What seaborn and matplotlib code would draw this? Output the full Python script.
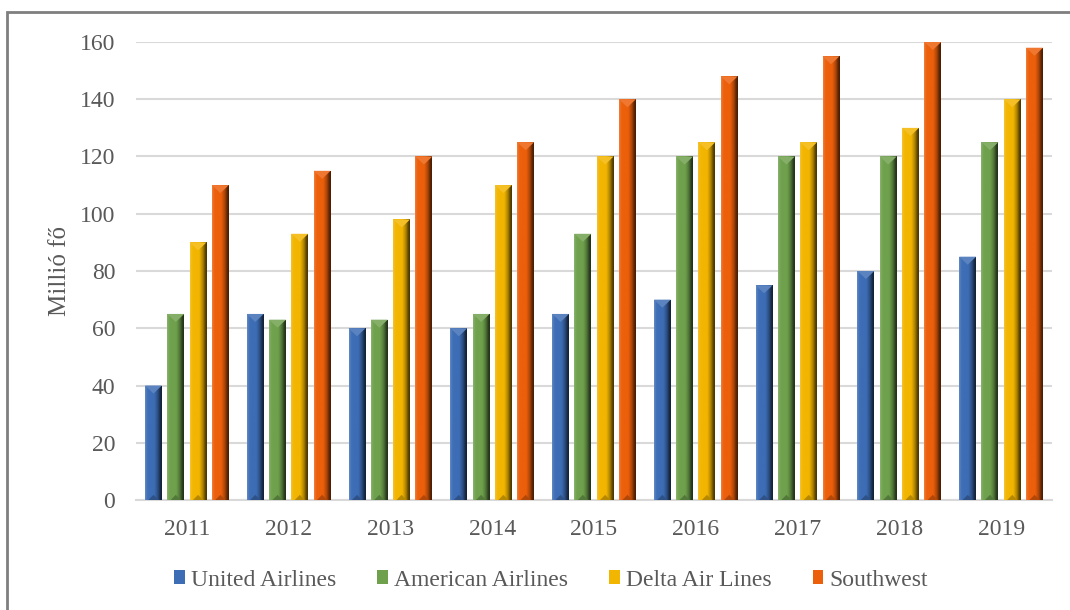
import numpy as np
import pandas as pd
import matplotlib
matplotlib.use('Agg')
import matplotlib.pyplot as plt
import seaborn as sns
from matplotlib.colors import to_rgb
from matplotlib.patches import Patch, Rectangle

# adatok (millió fő)
years = ['2011', '2012', '2013', '2014', '2015', '2016', '2017', '2018', '2019']
airlines = ['United Airlines', 'American Airlines', 'Delta Air Lines', 'Southwest']
united = [40, 65, 60, 60, 65, 70, 75, 80, 85]
american = [65, 63, 63, 65, 93, 120, 120, 120, 125]
delta = [90, 93, 98, 110, 120, 125, 125, 130, 140]
southwest = [110, 115, 120, 125, 140, 148, 155, 160, 158]
colors = ['#3D6DB5', '#6FA14D', '#F2B500', '#EC5F0B']

df = pd.DataFrame({'year': years * 4,
                   'airline': np.repeat(airlines, len(years)),
                   'value': united + american + delta + southwest})

sns.set_style('white')
plt.rcParams['font.family'] = ['Liberation Serif', 'DejaVu Serif']
txt = '#595959'

fig = plt.figure(figsize=(10.7, 6.1), dpi=100)
ax = fig.add_axes([136 / 1070, 110 / 610, 916 / 1070, 458 / 610])

sns.barplot(data=df, x='year', y='value', hue='airline', hue_order=airlines,
            palette=colors, saturation=1, width=0.876, gap=0.24, legend=False,
            ax=ax, edgecolor='none', zorder=3)

# bevel-szerű árnyalás
def shade(c, f):
    c = np.array(to_rgb(c))
    return np.clip(c * f, 0, 1) if f < 1 else c + (1 - c) * (f - 1)

prof_x = np.linspace(0, 1, 40)
for p in ax.patches:
    x0, y0 = p.get_x(), p.get_y()
    w, h = p.get_width(), p.get_height()
    if h <= 0:
        continue
    base = p.get_facecolor()
    fac = np.interp(prof_x, [0, 0.1, 0.2, 0.55, 0.78, 0.9, 1.0],
                    [1.2, 1.05, 1.0, 1.0, 0.7, 0.4, 0.3])
    img = np.array([[shade(base, f) for f in fac]])
    im = ax.imshow(img, extent=[x0, x0 + w, y0, y0 + h], aspect='auto',
                   zorder=4, interpolation='bicubic')
    im.set_clip_path(p)
    d = 2.8
    ax.fill([x0, x0 + w, x0 + w / 2], [h, h, h - d], color=shade(base, 1.15),
            zorder=5, lw=0)
    ax.fill([x0 + w * 0.2, x0 + w * 0.8, x0 + w / 2], [0, 0, 1.8],
            color=shade(base, 0.75), zorder=5, lw=0)

ax.set_xlim(-0.5, 8.5)
ax.set_ylim(0, 160)
ax.set_yticks(range(0, 161, 20))
ax.yaxis.grid(True, color='#d9d9d9', lw=1.5, zorder=0)
ax.set_axisbelow(True)
for s in ['top', 'right', 'left']:
    ax.spines[s].set_visible(False)
ax.spines['bottom'].set_color('#d9d9d9')
ax.spines['bottom'].set_linewidth(1.5)
ax.tick_params(length=0, labelsize=17, labelcolor=txt)
ax.tick_params(axis='y', pad=15)
ax.tick_params(axis='x', pad=14)
ax.set_xlabel('')
ax.set_ylabel('Millió fő', fontsize=18, color=txt, labelpad=6)

handles = [Patch(facecolor=c, edgecolor='none') for c in colors]
fig.legend(handles, airlines, loc='center', bbox_to_anchor=(0.515, 1 - 580 / 610),
           ncol=4, frameon=False, fontsize=17, labelcolor=txt,
           handlelength=0.45, handleheight=0.55, handletextpad=0.25,
           columnspacing=1.75)

fig.patches.append(Rectangle((7 / 1070, -0.1), 1.2, (610 - 12) / 610 + 0.1,
                             transform=fig.transFigure, fill=False,
                             edgecolor='#7f7f7f', lw=2))

fig.savefig('out.png', dpi=100)
